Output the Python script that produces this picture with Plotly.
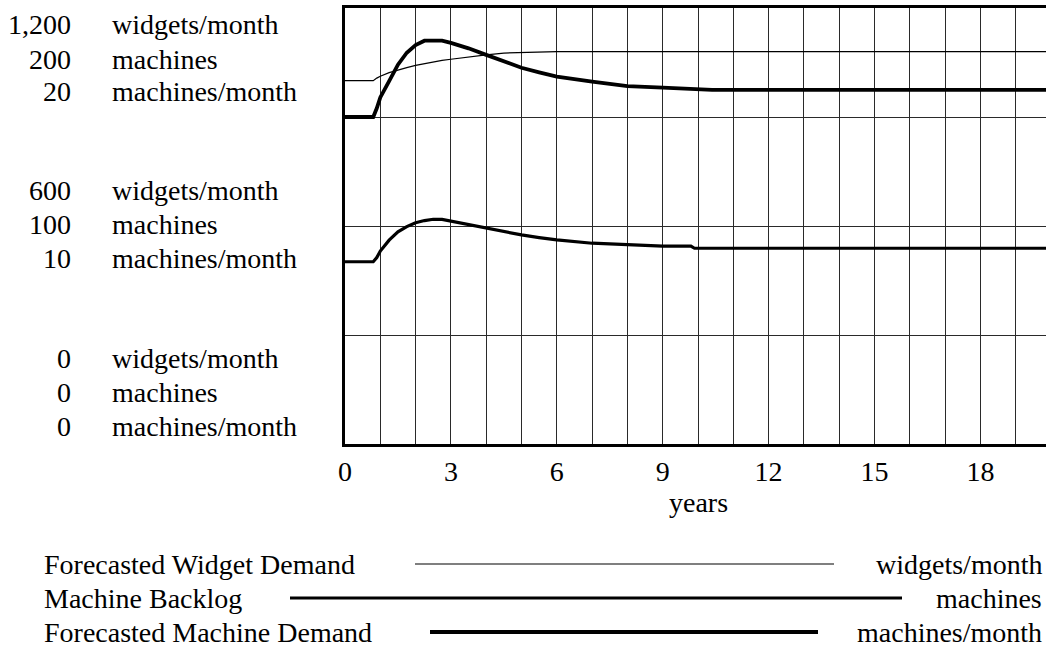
import plotly.graph_objects as go

# ---------------- data ----------------
years = [0, 0.8, 0.9, 1.0, 1.25, 1.5, 1.75, 2.0, 2.25, 2.5, 2.75, 3.0, 3.5, 4.0,
         4.5, 5.0, 5.5, 6.0, 7.0, 8.0, 9.0, 9.8, 9.9, 10.3, 10.4, 12, 14, 16, 18, 20]

forecasted_widget_demand = [1000, 1000, 1007, 1012, 1022, 1030, 1036, 1042, 1047, 1052,
                            1056, 1059, 1066, 1071, 1076, 1078, 1079, 1080, 1080, 1080,
                            1080, 1080, 1080, 1080, 1080, 1080, 1080, 1080, 1080, 1080]

machine_backlog = [83.6, 83.6, 85.5, 88.5, 93.5, 97.3, 99.7, 101.5, 102.5, 103.1,
                   103.0, 102.2, 100.6, 98.9, 97.3, 95.9, 94.7, 93.6, 92.1, 91.3,
                   90.8, 90.8, 89.8, 89.8, 89.8, 89.8, 89.8, 89.8, 89.8, 89.8]

forecasted_machine_demand = [15, 15, 15.4, 15.9, 16.65, 17.4, 17.95, 18.3, 18.5, 18.5,
                             18.5, 18.4, 18.15, 17.85, 17.55, 17.26, 17.05, 16.85, 16.62, 16.42,
                             16.35, 16.3, 16.3, 16.28, 16.24, 16.24, 16.24, 16.24, 16.24, 16.24]

series_names = ["Forecasted Widget Demand", "Machine Backlog", "Forecasted Machine Demand"]
series_units = ["widgets/month", "machines", "machines/month"]
axis_max = [1200, 200, 20]
axis_mid = [600, 100, 10]
x_tick_vals = [0, 3, 6, 9, 12, 15, 18]
x_title = "years"

# ---------------- styling ----------------
FONT = "Liberation Serif, 'Times New Roman', Times, serif"
FS = 28
W, H = 1046, 650
L, R, T, B = 345, 0, 8, 206
PW, PH = W - L - R, H - T - B
line_widths = [1.2, 3.2, 3.8]
legend_spans = [(415, 834), (290, 902), (430, 818)]
legend_y = [564, 598, 632]


def px(xp):
    return (xp - L) / PW


def py(yp):
    return (H - B - yp) / PH


fig = go.Figure()
ys = [forecasted_widget_demand, machine_backlog, forecasted_machine_demand]
axes = ["y", "y2", "y3"]
for name, vals, ax, lw in zip(series_names, ys, axes, line_widths):
    fig.add_trace(go.Scatter(x=years, y=vals, yaxis=ax, mode="lines", name=name,
                             line=dict(color="black", width=lw), showlegend=False))

grid = "#2a2a2a"
fig.update_layout(
    width=W, height=H,
    margin=dict(l=L, r=R, t=T, b=B, pad=0),
    paper_bgcolor="white", plot_bgcolor="white",
    font=dict(family=FONT, size=FS, color="black"),
    xaxis=dict(range=[0, PW / 35.3], tickvals=x_tick_vals, showgrid=True, gridcolor=grid,
               gridwidth=1, minor=dict(dtick=1, tick0=0, showgrid=True, gridcolor=grid, gridwidth=1),
               showline=True, linecolor="black", linewidth=3, mirror=True, ticks="",
               zeroline=False, tickfont=dict(family=FONT, size=FS, color="black")),
    yaxis=dict(range=[0, axis_max[0]], tickvals=[axis_max[0] * k / 4 for k in (1, 2, 3)],
               showticklabels=False, showgrid=True, gridcolor=grid, gridwidth=1,
               showline=True, linecolor="black", linewidth=3, ticks="", zeroline=False),
    yaxis2=dict(range=[0, axis_max[1]], overlaying="y", visible=False),
    yaxis3=dict(range=[0, axis_max[2]], overlaying="y", visible=False),
)

ann = []
# left scale labels
groups = [
    ([f"{v:,}" for v in axis_max], [24.5, 59.5, 92]),
    ([f"{v:,}" for v in axis_mid], [190, 225, 258]),
    (["0", "0", "0"], [358, 392, 426]),
]
for nums, yps in groups:
    for num, unit, yp in zip(nums, series_units, yps):
        ann.append(dict(x=px(73), y=py(yp), xref="paper", yref="paper", text=num,
                        showarrow=False, xanchor="right", yanchor="middle"))
        ann.append(dict(x=px(110), y=py(yp), xref="paper", yref="paper", text=unit,
                        showarrow=False, xanchor="left", yanchor="middle"))
# x title
ann.append(dict(x=px(698), y=py(503), xref="paper", yref="paper", text=x_title,
                showarrow=False, xanchor="center", yanchor="middle"))
# legend
shapes = []
for name, unit, (x0, x1), yp, lw in zip(series_names, series_units, legend_spans, legend_y, line_widths):
    ann.append(dict(x=px(42), y=py(yp), xref="paper", yref="paper", text=name,
                    showarrow=False, xanchor="left", yanchor="middle"))
    ann.append(dict(x=px(1044), y=py(yp), xref="paper", yref="paper", text=unit,
                    showarrow=False, xanchor="right", yanchor="middle"))
    shapes.append(dict(type="line", xref="paper", yref="paper", x0=px(x0), x1=px(x1),
                       y0=py(yp), y1=py(yp), line=dict(color="black", width=lw)))

fig.update_layout(annotations=ann, shapes=shapes)
fig.write_html("out.html", config={"displayModeBar": False},
               post_script="document.body.style.margin='0';document.body.style.overflow='hidden';")
